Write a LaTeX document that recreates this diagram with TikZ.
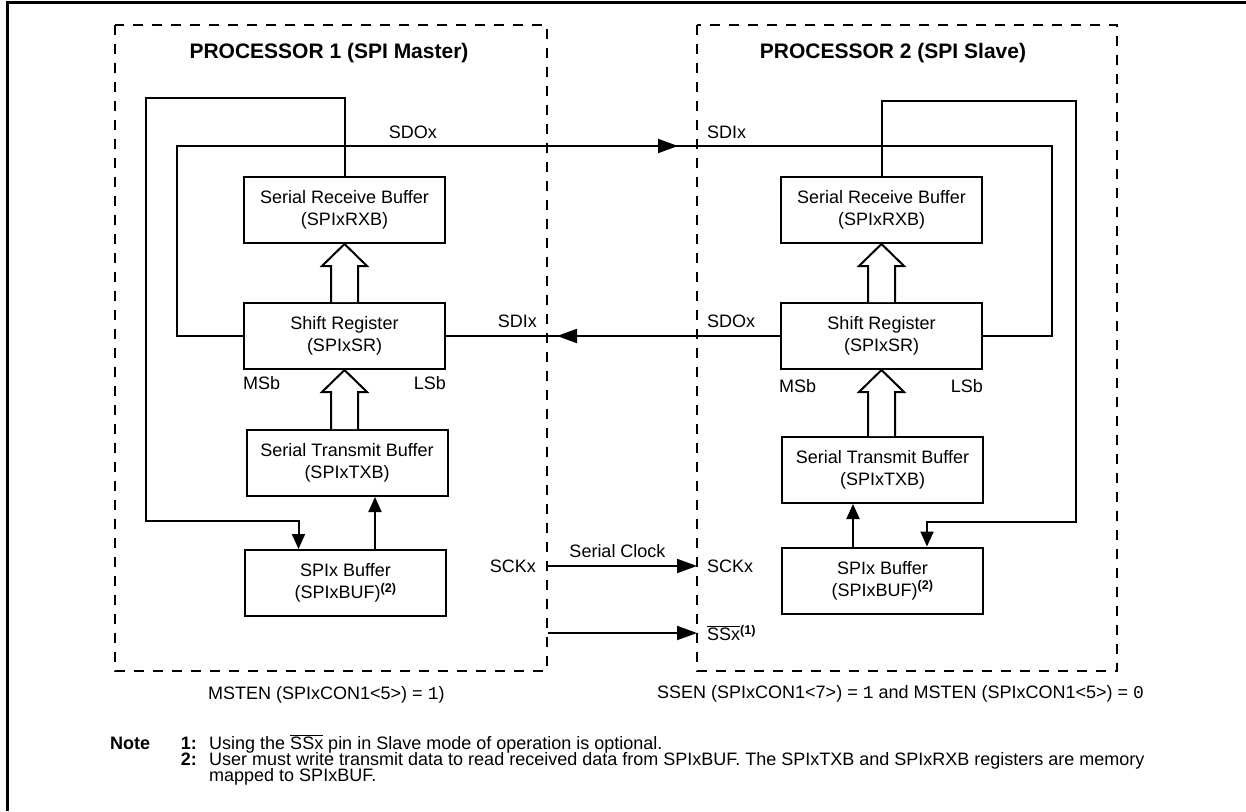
\documentclass[tikz,border=0pt]{standalone}
\usepackage{fontspec}
\setmainfont{Liberation Sans}
\setmonofont{Liberation Mono}
\usetikzlibrary{arrows.meta,calc}
\AtBeginDocument{\fontsize{18}{22}\selectfont}

\tikzset{
  block/.style={draw, line width=2pt, minimum width=201pt, minimum height=66pt, align=center, inner sep=0pt},
  wire/.style={line width=2pt},
  tip/.style={-{Triangle[length=20pt,width=14pt]}},
  smalltip/.style={-{Triangle[length=15pt,width=13pt]}},
  hollow/.style={line width=2pt, fill=white, line join=miter},
  procbox/.style={line width=2pt, dash pattern=on 10pt off 9pt},
  lbl/.style={inner sep=0pt},
  title/.style={font=\fontsize{21}{25}\selectfont\bfseries}
}

% open data-path arrow from a lower box to the box above it
\newcommand{\fatarrow}[2]{%
  \draw[hollow] let \p1=(#1.north), \p2=(#2.south) in
    (\x2-13.5pt,\y1) -- (\x2-13.5pt,\y2-22pt) -- (\x2-22.5pt,\y2-22pt) -- (\x2,\y2)
    -- (\x2+22.5pt,\y2-22pt) -- (\x2+13.5pt,\y2-22pt) -- (\x2+13.5pt,\y1);}
\newcommand{\barred}[1]{$\overline{\hbox{#1}}$}

\begin{document}
\begin{tikzpicture}[x=1pt,y=-1pt]
  \useasboundingbox (0,0) rectangle (1246,811);
  \draw[line width=3pt] (7,811) -- (7,2) -- (1246,2);

  % processor outlines
  \draw[procbox] (115,25) rectangle (547,671);
  \draw[procbox] (697,25) rectangle (1117,671);
  \node[title] (titleA) at (329,53) {PROCESSOR 1 (SPI Master)};
  \node[title] (titleB) at (893,53) {PROCESSOR 2 (SPI Slave)};

  % master
  \node[block] (rxbA) at (344.5,210) {Serial Receive Buffer\\(SPIxRXB)};
  \node[block] (srA) at (344.5,336) {Shift Register\\(SPIxSR)};
  \node[block] (txbA) at (347,463) {Serial Transmit Buffer\\(SPIxTXB)};
  \node[block] (bufA) at (345.5,583) {SPIx Buffer\\(SPIxBUF)\textsuperscript{\bfseries(2)}};
  \node[lbl,anchor=west] (msbA) at (243,383) {MSb};
  \node[lbl,anchor=east] (lsbA) at (446,383) {LSb};
  \fatarrow{srA}{rxbA}
  \fatarrow{txbA}{srA}
  \draw[wire,smalltip] ([xshift=29.5pt]bufA.north) -- ([xshift=29.5pt]bufA.north |- txbA.south);
  \draw[wire,smalltip] (rxbA.north) |- (146,98) -- (146,521) -| ([xshift=-47pt]bufA.north);

  % slave
  \node[block] (rxbB) at (881.5,210) {Serial Receive Buffer\\(SPIxRXB)};
  \node[block] (srB) at (881.5,336) {Shift Register\\(SPIxSR)};
  \node[block] (txbB) at (882.5,470) {Serial Transmit Buffer\\(SPIxTXB)};
  \node[block] (bufB) at (882.5,580.5) {SPIx Buffer\\(SPIxBUF)\textsuperscript{\bfseries(2)}};
  \node[lbl,anchor=west] (msbB) at (779,386) {MSb};
  \node[lbl,anchor=east] (lsbB) at (983,386) {LSb};
  \fatarrow{srB}{rxbB}
  \fatarrow{txbB}{srB}
  \draw[wire,smalltip] ([xshift=-29.5pt]bufB.north) -- ([xshift=-29.5pt]bufB.north |- txbB.south);
  \draw[wire,smalltip] (rxbB.north) |- (1076,101) -- (1076,522) -| ([xshift=44.5pt]bufB.north);

  % pins
  \coordinate (sdoA) at (547,146);
  \coordinate (sdiB) at (678,146);
  \coordinate (sdoB) at (697,336);
  \coordinate (sdiA) at (557,336);
  \coordinate (sckA) at (548,566);
  \coordinate (sckB) at (697,566);
  \coordinate (ssA) at (548,633);
  \coordinate (ssB) at (697,633);

  \draw[wire] (srA.west) -| (177,146) -- (1052,146) |- (srB.east);
  \draw[wire,tip] (sdoA) -- (sdiB);
  \draw[wire] (srB.west) -- (srA.east);
  \draw[wire,tip] (sdoB) -- (sdiA);
  \draw[wire,tip] (sckA) -- node[lbl,above=7pt,xshift=-5pt] (clk) {Serial Clock} (sckB);
  \draw[wire,tip] (ssA) -- (ssB);

  \node[lbl,anchor=east] (sdoAl) at (437,132) {SDOx};
  \node[lbl,anchor=west] (sdiBl) at (707,132) {SDIx};
  \node[lbl,anchor=east] (sdiAl) at (537,321) {SDIx};
  \node[lbl,anchor=west] (sdoBl) at (707,321) {SDOx};
  \node[lbl,anchor=east] (sckAl) at (536,566) {SCKx};
  \node[lbl,anchor=west] (sckBl) at (707,566) {SCKx};
  \node[lbl,anchor=west] (ssBl) at (707,633) {\barred{SSx}\textsuperscript{\bfseries(1)}};

  % settings and notes
  \node[lbl,anchor=west] (modeA) at (208,695) {MSTEN (SPIxCON1<5>) = \texttt{1})};
  \node[lbl,anchor=west] (modeB) at (657,694) {SSEN (SPIxCON1<7>) = \texttt{1} and MSTEN (SPIxCON1<5>) = \texttt{0}};
  \node[lbl,anchor=base west,font=\bfseries] (note) at (110,749) {Note};
  \node[lbl,anchor=base east,font=\bfseries] (n1) at (197,749) {1:};
  \node[lbl,anchor=base west] (t1) at (209,749) {Using the \barred{SSx} pin in Slave mode of operation is optional.};
  \node[lbl,anchor=base east,font=\bfseries] (n2) at (197,765) {2:};
  \node[lbl,anchor=base west] (t2) at (209,765) {User must write transmit data to read received data from SPIxBUF. The SPIxTXB and SPIxRXB registers are memory};
  \node[lbl,anchor=base west] (t3) at (209,781) {mapped to SPIxBUF.};
\end{tikzpicture}
\end{document}
